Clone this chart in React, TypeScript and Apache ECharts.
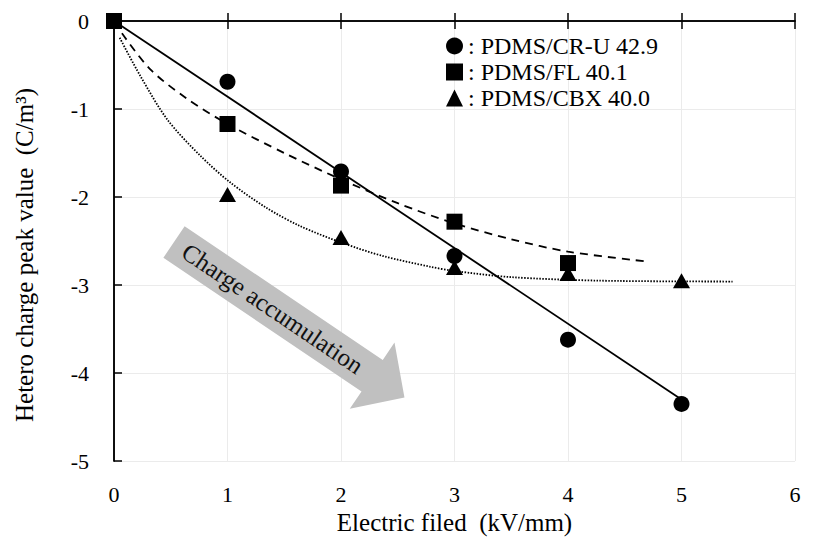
import React, { useEffect, useRef } from "react";
import * as echarts from "echarts";

const FONT = "'Liberation Serif', 'Times New Roman', serif";

const xTicks = [0, 1, 2, 3, 4, 5, 6];
const yTicks = [-5, -4, -3, -2, -1, 0];

const nameCR = "PDMS/CR-U 42.9";
const nameFL = "PDMS/FL 40.1";
const nameCBX = "PDMS/CBX 40.0";

const crPoints: number[][] = [[0, 0], [1, -0.69], [2, -1.71], [3, -2.67], [4, -3.62], [5, -4.35]];
const flPoints: number[][] = [[0, 0], [1, -1.17], [2, -1.87], [3, -2.28], [4, -2.75]];
const cbxPoints: number[][] = [[1, -1.97], [2, -2.46], [3, -2.8], [4, -2.87], [5, -2.95]];

const crFit: number[][] = [[0, 0], [5, -4.3]];
const flFit: number[][] = [
  [0.07, -0.14], [0.32, -0.55], [0.64, -0.88], [1, -1.17], [1.5, -1.5], [2, -1.8],
  [2.5, -2.07], [3, -2.3], [3.5, -2.48], [4, -2.62], [4.68, -2.73],
];
const cbxFit: number[][] = [
  [0.05, -0.19], [0.23, -0.62], [0.47, -1.12], [0.76, -1.53], [1.02, -1.83], [1.34, -2.12],
  [1.64, -2.33], [2.03, -2.53], [2.37, -2.67], [2.78, -2.79], [3, -2.84], [3.5, -2.91],
  [4.28, -2.95], [5.45, -2.96],
];

const xTitle = "Electric filed  (kV/mm)";
const yTitle = "Hetero charge peak value  (C/m³)";
const arrowText = "Charge accumulation";

export default function App() {
  const ref = useRef<HTMLDivElement>(null);
  useEffect(() => {
    if (!ref.current) return;
    const chart = echarts.init(ref.current, null, { renderer: "svg" });
    const axisLine = { show: true, lineStyle: { color: "#000", width: 1.5 } };
    const tick = { show: true, inside: true, length: 8, lineStyle: { color: "#000", width: 1.5 } };
    const split = { show: true, lineStyle: { color: "#ebebeb", width: 1 } };
    const label = { fontFamily: FONT, fontSize: 22, color: "#000" };

    // arrow geometry (annotation)
    const deg = 34;
    const a = (deg * Math.PI) / 180;
    const u = [Math.cos(a), Math.sin(a)];
    const nUp = [Math.sin(a), -Math.cos(a)];
    const S = [174, 242];
    const L = 278, Lb = 239, hw = 19, hh = 40;
    const pt = (t: number, w: number) => [S[0] + t * u[0] + w * nUp[0], S[1] + t * u[1] + w * nUp[1]];
    const arrowPts = [pt(0, hw), pt(Lb, hw), pt(Lb, hh), pt(L, 0), pt(Lb, -hh), pt(Lb, -hw), pt(0, -hw)];
    const textCenter = pt(119, 0);

    const black = { color: "#000", opacity: 1 };

    chart.setOption({
      animation: false,
      backgroundColor: "#fff",
      textStyle: { fontFamily: FONT },
      grid: { left: 114, top: 21, width: 681, height: 441, containLabel: false },
      legend: {
        data: [
          { name: nameCR, icon: "circle" },
          { name: nameFL, icon: "rect" },
          { name: nameCBX, icon: "triangle" },
        ],
        orient: "vertical",
        left: 446,
        top: 34,
        padding: 0,
        itemWidth: 17,
        itemHeight: 17,
        itemGap: 2,
        formatter: (n: string) => ": " + n,
        textStyle: { fontFamily: FONT, fontSize: 24, color: "#000" },
        itemStyle: { color: "#000", opacity: 1 },
      },
      xAxis: [
        {
          type: "value", min: xTicks[0], max: xTicks[xTicks.length - 1], interval: 1,
          position: "bottom", axisLine, axisTick: tick, splitLine: split,
          axisLabel: { ...label, margin: 22 },
          name: xTitle, nameLocation: "middle", nameGap: 46,
          nameTextStyle: { fontFamily: FONT, fontSize: 25, color: "#000" },
        },
        {
          type: "value", min: xTicks[0], max: xTicks[xTicks.length - 1], interval: 1,
          position: "top", axisLine, axisTick: tick, splitLine: { show: false },
          axisLabel: { show: false },
        },
      ],
      yAxis: [
        {
          type: "value", min: yTicks[0], max: yTicks[yTicks.length - 1], interval: 1,
          position: "left", axisLine, axisTick: tick, splitLine: split,
          axisLabel: { ...label, margin: 25 },
        },
        {
          type: "value", min: yTicks[0], max: yTicks[yTicks.length - 1], interval: 1,
          position: "right", axisLine, axisTick: { show: false }, splitLine: { show: false },
          axisLabel: { show: false },
        },
      ],
      graphic: [
        {
          type: "polygon", shape: { points: arrowPts }, style: { fill: "#c0c0c0" }, z: 1,
        },
        {
          type: "text", x: textCenter[0], y: textCenter[1], rotation: -a, z: 2,
          style: { text: arrowText, font: `25px ${FONT}`, fill: "#111", align: "center", verticalAlign: "middle" },
        },
        {
          type: "text", x: 24, y: 255, rotation: Math.PI / 2,
          style: { text: yTitle, font: `25px ${FONT}`, fill: "#000", align: "center", verticalAlign: "middle" },
        },
      ],
      series: [
        {
          type: "line", name: "fitCR", data: crFit, showSymbol: false, symbol: "none",
          lineStyle: { color: "#000", width: 1.8, type: "solid" }, z: 3,
        },
        {
          type: "line", name: "fitFL", data: flFit, showSymbol: false, symbol: "none",
          smooth: 0.3,
          lineStyle: { color: "#000", width: 1.8, type: [8, 6] }, z: 3,
        },
        {
          type: "line", name: "fitCBX", data: cbxFit, showSymbol: false, symbol: "none",
          smooth: 0.3,
          lineStyle: { color: "#000", width: 1.8, type: [1.5, 1.5] }, z: 3,
        },
        {
          type: "scatter", name: nameCR, data: crPoints, symbol: "circle", symbolSize: 16,
          itemStyle: black, z: 5,
        },
        {
          type: "scatter", name: nameFL, data: flPoints, symbol: "rect", symbolSize: 16,
          itemStyle: black, z: 5,
        },
        {
          type: "scatter", name: nameCBX, data: cbxPoints, symbol: "triangle", symbolSize: [17, 15],
          itemStyle: black, z: 5,
        },
      ],
    });
    return () => chart.dispose();
  }, []);
  return (
    <div
      ref={ref}
      style={{ position: "fixed", left: 0, top: 0, width: 815, height: 540, background: "#fff" }}
    />
  );
}
